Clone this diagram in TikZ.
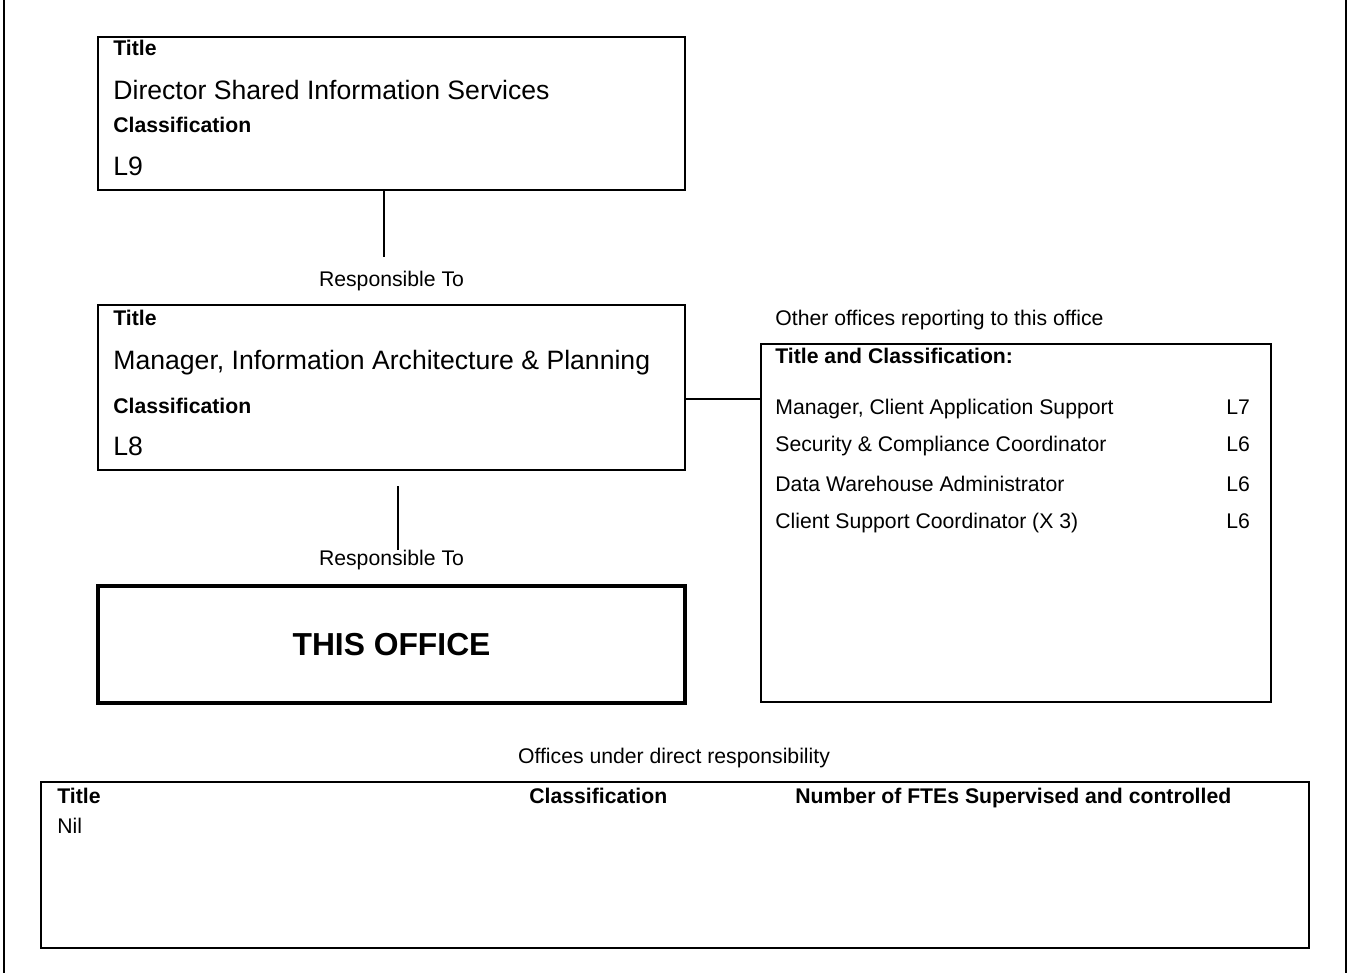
\documentclass[tikz,border=0pt]{standalone}
\usepackage{fontspec}
\setmainfont{Liberation Sans}

\begin{document}
\begin{tikzpicture}[
        x=0.5pt, y=-0.5pt,
        box/.style={rectangle, draw, line width=1pt, inner sep=0pt, minimum width=293.5pt},
        txt/.style={anchor=base west, inner sep=0pt, font=\fontsize{10.6}{12.7}\selectfont},
        head/.style={txt, font=\fontsize{10.6}{12.7}\selectfont\bfseries},
        big/.style={txt, font=\fontsize{13.3}{16}\selectfont},
        caption/.style={anchor=base, inner sep=0pt, font=\fontsize{10.6}{12.7}\selectfont},
        link/.style={line width=0.75pt}
    ]
    \useasboundingbox (0,0) rectangle (1349,973);

    % page frame (sides only)
    \draw[line width=1pt] (4,0) -- (4,973);
    \draw[line width=1pt] (1346,0) -- (1346,973);

    % Director
    \node[box, minimum height=76.5pt] (dir) at (391.5,113.5) {};
    \node[head] (dirtitle) at (113,56) {Title};
    \node[big] (dirname) at (113,100) {Director Shared Information Services};
    \node[head] (dirclass) at (113,133) {Classification};
    \node[big] (dirlevel) at (113,176) {L9};

    \coordinate (up1) at (384,257);
    \draw[link] (up1 |- dir.south) -- (up1);
    \node[caption] (resp1) at (391.5,286) {Responsible To};

    % Manager
    \node[box, minimum height=82.5pt] (mgr) at (391.5,387.5) {};
    \node[head] (mgrtitle) at (113,325) {Title};
    \node[big] (mgrname) at (113,369) {Manager, Information Architecture \& Planning};
    \node[head] (mgrclass) at (113,413) {Classification};
    \node[big] (mgrlevel) at (113,455) {L8};

    \coordinate (up2a) at (398,486);
    \coordinate (up2b) at (398,550);
    \draw[link] (up2a) -- (up2b);
    \node[caption] (resp2) at (391.5,565) {Responsible To};

    % This office
    \node[box, line width=2.25pt, minimum height=58.5pt] (office) at (391.5,644.5) {};
    \node[inner sep=0pt, font=\fontsize{15.9}{19}\selectfont\bfseries] (officename) at (391.5,645) {THIS OFFICE};

    % Other offices
    \node[txt] (othercap) at (775,325) {Other offices reporting to this office};
    \node[box, minimum width=255pt, minimum height=179pt] (others) at (1016,523) {};
    \node[head] (otherhead) at (775,364) {Title and Classification:};
    \node[txt] (o1) at (775,414) {Manager, Client Application Support};
    \node[txt] (o2) at (775,451) {Security \& Compliance Coordinator};
    \node[txt] (o3) at (775,491) {Data Warehouse Administrator};
    \node[txt] (o4) at (775,528) {Client Support Coordinator (X 3)};
    \node[txt] (l1) at (1226,414) {L7};
    \node[txt] (l2) at (1226,451) {L6};
    \node[txt] (l3) at (1226,491) {L6};
    \node[txt] (l4) at (1226,528) {L6};

    \coordinate (side) at (761,399);
    \draw[link] (side -| mgr.east) -- (side -| others.west);

    % Offices under direct responsibility
    \node[caption] (undercap) at (674,763) {Offices under direct responsibility};
    \node[box, minimum width=634pt, minimum height=83pt] (under) at (675,865) {};
    \node[head] (colt) at (57,803) {Title};
    \node[head] (colc) at (529,803) {Classification};
    \node[head] (coln) at (795,803) {Number of FTEs Supervised and controlled};
    \node[txt] (nil) at (57,833) {Nil};
\end{tikzpicture}
\end{document}
